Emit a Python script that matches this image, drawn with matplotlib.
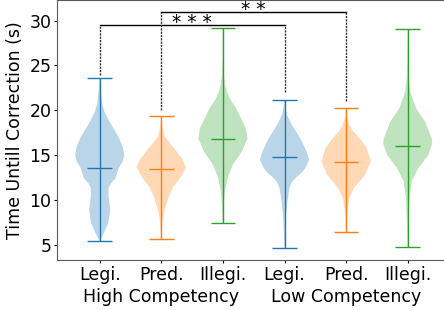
"""Violin plot: time until correction, per robot behaviour and competency level."""

import matplotlib

matplotlib.use("Agg")

import matplotlib.pyplot as plt  # noqa: E402

# --------------------------------------------------------------------------- #
# Data
# --------------------------------------------------------------------------- #
tick_labels = ["Legi.", "Pred.", "Illegi.", "Legi.", "Pred.", "Illegi."]
group_labels = ["High Competency", "Low Competency"]
group_centres = [2, 5]
positions = [1, 2, 3, 4, 5, 6]
colors = ["C0", "C1", "C2", "C0", "C1", "C2"]

means = [13.56, 13.44, 16.79, 14.75, 14.27, 16.02]
mins = [5.44, 5.63, 7.41, 4.60, 6.46, 4.79]
maxes = [23.63, 19.34, 29.16, 21.20, 20.30, 29.02]

# density outlines: y levels (s) and relative half-widths
high_legi_y = [5.44, 5.92, 6.67, 7.42, 8.90, 10.38, 11.30, 11.87, 12.40, 13.54,
               14.28, 15.03, 15.96, 17.07, 18.00, 18.93, 19.86, 20.79, 21.90,
               23.00, 23.63]
high_legi_w = [0.01, 0.10, 0.23, 0.35, 0.43, 0.36, 0.36, 0.46, 0.64, 0.77,
               0.93, 1.00, 0.93, 0.76, 0.55, 0.36, 0.19, 0.10, 0.05, 0.02, 0.01]

high_pred_y = [5.63, 5.92, 7.00, 7.78, 8.90, 9.60, 10.38, 11.50, 12.61, 13.65,
               14.47, 15.59, 16.30, 17.07, 18.00, 18.70, 19.34]
high_pred_w = [0.01, 0.02, 0.04, 0.06, 0.14, 0.22, 0.30, 0.50, 0.81, 1.00,
               0.88, 0.57, 0.35, 0.14, 0.06, 0.03, 0.01]

high_illegi_y = [7.41, 9.09, 10.94, 12.43, 13.91, 15.40, 16.89, 18.00, 18.74,
                 20.23, 21.20, 22.09, 23.00, 23.95, 26.00, 29.16]
high_illegi_w = [0.01, 0.03, 0.08, 0.19, 0.40, 0.77, 1.00, 0.93, 0.80,
                 0.54, 0.30, 0.16, 0.08, 0.04, 0.01, 0.005]

low_legi_y = [4.60, 6.11, 7.97, 9.83, 11.32, 12.00, 12.60, 13.00, 13.54, 14.47,
              15.40, 16.89, 18.37, 19.49, 20.30, 21.20]
low_legi_w = [0.01, 0.02, 0.05, 0.12, 0.20, 0.30, 0.50, 0.68, 0.84, 1.00,
              0.90, 0.64, 0.30, 0.10, 0.04, 0.01]

low_pred_y = [6.46, 8.00, 8.71, 10.20, 11.32, 12.80, 14.28, 15.77, 16.89,
              17.60, 18.37, 19.30, 20.30]
low_pred_w = [0.01, 0.03, 0.05, 0.13, 0.32, 0.77, 1.00, 0.84, 0.54,
              0.30, 0.13, 0.04, 0.01]

low_illegi_y = [4.79, 7.22, 10.20, 12.06, 13.54, 15.03, 16.33, 16.89, 18.74,
                20.23, 22.09, 23.50, 25.00, 29.02]
low_illegi_w = [0.01, 0.03, 0.07, 0.16, 0.43, 0.84, 1.00, 0.97, 0.70,
                0.34, 0.10, 0.04, 0.02, 0.005]

outlines = [
    (high_legi_y, high_legi_w),
    (high_pred_y, high_pred_w),
    (high_illegi_y, high_illegi_w),
    (low_legi_y, low_legi_w),
    (low_pred_y, low_pred_w),
    (low_illegi_y, low_illegi_w),
]

# significance brackets: (left pos, right pos, height, label, left end, right end)
brackets = [
    (1, 4, 29.52, "* * *", 23.95, 22.05),
    (2, 5, 30.97, "* *", 20.04, 21.05),
]

FONT = 12.5


def _stats(i):
    ys, ws = outlines[i]
    return {"coords": ys, "vals": ws, "mean": means[i], "median": means[i],
            "min": mins[i], "max": maxes[i], "quantiles": []}


fig = plt.figure(figsize=(4.44, 3.10), dpi=100)
ax = fig.add_axes([57 / 444, 50 / 310, 393.4 / 444, 260 / 310])

for i, pos in enumerate(positions):
    parts = ax.violin([_stats(i)], positions=[pos], widths=0.8,
                      showmeans=True, showextrema=True)
    for body in parts["bodies"]:
        body.set_facecolor(colors[i])
        body.set_edgecolor("none")
        body.set_linewidth(0)
        body.set_alpha(0.3)
    for key in ("cmeans", "cmins", "cmaxes", "cbars"):
        parts[key].set_color(colors[i])
        parts[key].set_linewidth(1.0)

dash = (0, (1.6, 0.8))
for left, right, h, label, lend, rend in brackets:
    ax.plot([left, right], [h, h], color="black", lw=1.0)
    ax.plot([left, left], [lend, h], color="0.2", lw=1.0, ls=dash)
    ax.plot([right, right], [rend, h], color="0.2", lw=1.0, ls=dash)
    ax.text((left + right) / 2, h - 0.75, label, ha="center", va="bottom",
            fontsize=FONT + 1)

ax.set_xlim(0.307, 6.693)
ax.set_ylim(3.3, 32.3)
ax.set_xticks(positions)
ax.set_xticklabels(tick_labels, fontsize=FONT)
ax.set_yticks([5, 10, 15, 20, 25, 30])
ax.tick_params(axis="y", labelsize=FONT, length=2.5, pad=1.5)
ax.tick_params(axis="x", length=2.5, pad=1.5)
ax.set_ylabel("Time Untill Correction (s)", fontsize=FONT)
ax.spines["right"].set_visible(False)
for side in ("left", "bottom", "top"):
    ax.spines[side].set_color("0.35")

# competency group names under the middle tick of each group
for x, name in zip(group_centres, group_labels):
    ax.text(x, -0.142, name, transform=ax.get_xaxis_transform(),
            ha="center", va="center", fontsize=FONT)

fig.savefig("out.png", dpi=100)
